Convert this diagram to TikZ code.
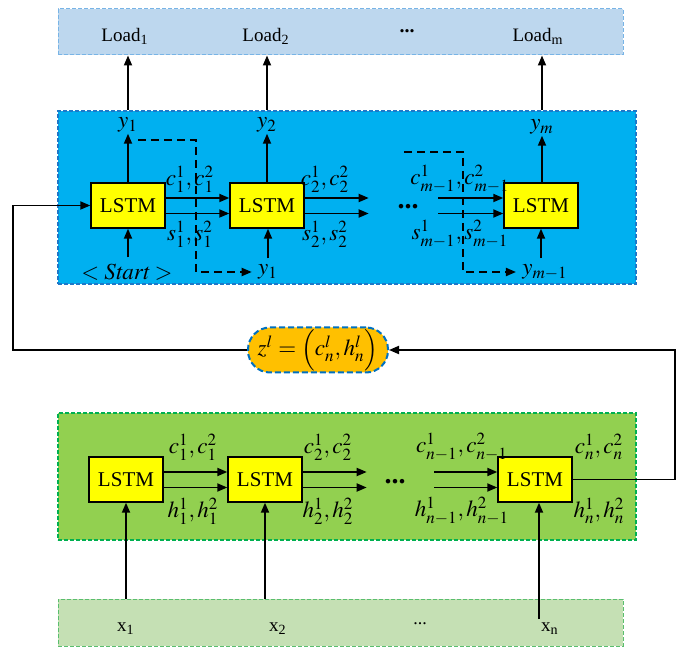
\documentclass[tikz,border=0pt]{standalone}
\usepackage{mathptmx}
\usepackage[no-math]{fontspec}
\setmainfont{Liberation Serif}
\usetikzlibrary{arrows.meta}

\definecolor{loadfill}{RGB}{189,215,238}
\definecolor{loadline}{RGB}{120,180,230}
\definecolor{decfill}{RGB}{0,176,240}
\definecolor{decline}{RGB}{30,120,200}
\definecolor{encfill}{RGB}{146,208,80}
\definecolor{encline}{RGB}{0,176,80}
\definecolor{infill}{RGB}{197,224,180}
\definecolor{inline}{RGB}{90,190,110}
\definecolor{zfill}{RGB}{255,192,0}
\definecolor{zline}{RGB}{0,112,192}
\definecolor{lstmfill}{RGB}{255,255,0}

\tikzset{
    bar/.style={dashed, dash pattern=on 2pt off 1pt, line width=0.5pt, inner sep=0pt},
    lstm/.style={draw=black, fill=lstmfill, line width=0.7pt, minimum width=37pt, minimum height=22.5pt, inner sep=0pt, font=\fontsize{10.5}{12}\selectfont},
    arr/.style={-{Triangle[length=5pt,width=4pt]}, line width=0.9pt},
    dsh/.style={dash pattern=on 4pt off 2.5pt, line width=0.7pt},
    lbl/.style={font=\fontsize{11.5}{13}\selectfont, inner sep=0.5pt},
    inlbl/.style={font=\fontsize{11.5}{13}\selectfont, inner sep=3pt},
    txt/.style={font=\fontsize{9.5}{11}\selectfont, inner sep=0pt}
}

\begin{document}
\begin{tikzpicture}[x=0.5pt,y=-0.5pt]
    \useasboundingbox (0,0) rectangle (676,647);

    % 背景框
    \node[bar, fill=loadfill, draw=loadline, minimum width=282.5pt, minimum height=23pt] (load) at (340.5,32) {};
    \node[bar, fill=decfill, draw=decline, line width=0.7pt, minimum width=289pt, minimum height=86.5pt] (dec) at (347,197.5) {};
    \node[bar, fill=encfill, draw=encline, line width=0.7pt, minimum width=289pt, minimum height=63.5pt] (enc) at (347,476.5) {};
    \node[bar, fill=infill, draw=inline, minimum width=282.5pt, minimum height=23.5pt] (xin) at (340.5,622.5) {};

    % 输出与输入文字
    \node[txt] (load1) at (125,36) {Load\textsubscript{1}};
    \node[txt] (load2) at (266,36) {Load\textsubscript{2}};
    \node[txt, font=\fontsize{10}{11}\selectfont\bfseries] (loaddots) at (407,31) {...};
    \node[txt] (loadm) at (538,36) {Load\textsubscript{m}};
    \node[txt] (x1) at (126,629) {x\textsubscript{1}};
    \node[txt] (x2) at (278,629) {x\textsubscript{2}};
    \node[txt, font=\fontsize{9}{11}\selectfont] (xdots) at (420,624) {...};
    \node[txt] (xn) at (550,629) {x\textsubscript{n}};

    % 解码器 LSTM
    \node[lstm] (lstmt1) at (128,205.5) {LSTM};
    \node[lstm] (lstmt2) at (267,205.5) {LSTM};
    \node[lstm] (lstmt3) at (541,205.5) {LSTM};
    \node[font=\fontsize{14}{14}\selectfont\bfseries, inner sep=0pt] (tdots) at (408,207) {...};

    % 编码器 LSTM
    \node[lstm] (lstmb1) at (126,479.5) {LSTM};
    \node[lstm] (lstmb2) at (265,479.5) {LSTM};
    \node[lstm] (lstmb3) at (535,479.5) {LSTM};
    \node[font=\fontsize{14}{14}\selectfont\bfseries, inner sep=0pt] (bdots) at (395,482) {...};

    % 中间向量
    \node[draw=zline, fill=zfill, dashed, dash pattern=on 3pt off 1.5pt, line width=1pt, rounded corners=11pt,
          minimum width=70pt, minimum height=22.5pt, inner sep=0pt, font=\fontsize{11.5}{13}\selectfont] (znode) at (318,350)
          {$z^l=\Bigl(c_n^l,h_n^l\Bigr)$};

    % 解码器标注
    \node[lbl] (yt1) at (128,125) {$y_1$};
    \node[lbl] (yt2) at (267,125) {$y_2$};
    \node[lbl] (ytm) at (542,127) {$y_m$};
    \node[lbl] (ct1) at (190,179) {$c_1^1,c_1^2$};
    \node[lbl] (st1) at (190,234) {$s_1^1,s_1^2$};
    \node[lbl] (ct2) at (325,179) {$c_2^1,c_2^2$};
    \node[lbl] (st2) at (325,234) {$s_2^1,s_2^2$};
    \node[lbl] (ctm) at (460,179) {$c_{m-1}^1,c_{m-1}^2$};
    \node[lbl] (stm) at (460,234) {$s_{m-1}^1,s_{m-1}^2$};
    \node[inlbl] (start) at (127,272) {$<\mathit{Start}>$};
    \node[inlbl] (yb1) at (268,272) {$y_1$};
    \node[inlbl] (ybm) at (545,272) {$y_{m-1}$};

    % 编码器标注
    \node[lbl] (cb1) at (193,447) {$c_1^1,c_1^2$};
    \node[lbl] (hb1) at (193,511) {$h_1^1,h_1^2$};
    \node[lbl] (cb2) at (328,447) {$c_2^1,c_2^2$};
    \node[lbl] (hb2) at (328,511) {$h_2^1,h_2^2$};
    \node[lbl] (cbm) at (462,447) {$c_{n-1}^1,c_{n-1}^2$};
    \node[lbl] (hbm) at (462,511) {$h_{n-1}^1,h_{n-1}^2$};
    \node[lbl] (cbn) at (599,447) {$c_n^1,c_n^2$};
    \node[lbl] (hbn) at (599,511) {$h_n^1,h_n^2$};

    % 输出到 Load
    \draw[arr] (dec.north -| yt1) -- (load.south -| yt1);
    \draw[arr] (dec.north -| yt2) -- (load.south -| yt2);
    \draw[arr] (dec.north -| ytm) -- (load.south -| ytm);

    % 解码器连线
    \draw[arr] (yt1 |- lstmt1.north) -- (yt1.south);
    \draw[arr] (yt2 |- lstmt2.north) -- (yt2.south);
    \draw[arr] (ytm |- lstmt3.north) -- (ytm.south);
    \draw[arr] ([yshift=3.75pt]lstmt1.east) -- ([yshift=3.75pt]lstmt2.west);
    \draw[arr] ([yshift=-4pt]lstmt1.east) -- ([yshift=-4pt]lstmt2.west);
    \draw[arr] ([yshift=3.75pt]lstmt2.east) -- ++(64,0);
    \draw[arr] ([yshift=-4pt]lstmt2.east) -- ++(64,0);
    \draw[arr] ([xshift=-32.5pt,yshift=3.75pt]lstmt3.west) -- ([yshift=3.75pt]lstmt3.west);
    \draw[arr] ([xshift=-32.5pt,yshift=-4pt]lstmt3.west) -- ([yshift=-4pt]lstmt3.west);
    \draw[arr] (lstmt1.south |- start.north) -- (lstmt1.south);
    \draw[arr] (yb1.north) -- (yb1 |- lstmt2.south);
    \draw[arr] ([xshift=-2pt]ybm.north) -- ([xshift=-2pt]ybm.north |- lstmt3.south);

    % 虚线反馈
    \coordinate (d1s) at (138,140);
    \coordinate (d1m) at (196,272);
    \coordinate (d2s) at (404,152);
    \coordinate (d2m) at (463,272);
    \draw[dsh, arr] (d1s) -| (d1m) -- (yb1.west);
    \draw[dsh, arr] (d2s) -| (d2m) -- (ybm.west);

    % 编码器连线
    \draw[arr] ([yshift=3.75pt]lstmb1.east) -- ([yshift=3.75pt]lstmb2.west);
    \draw[arr] ([yshift=-4pt]lstmb1.east) -- ([yshift=-4pt]lstmb2.west);
    \draw[arr] ([yshift=3.75pt]lstmb2.east) -- ++(64,0);
    \draw[arr] ([yshift=-4pt]lstmb2.east) -- ++(64,0);
    \draw[arr] ([xshift=-31.5pt,yshift=3.75pt]lstmb3.west) -- ([yshift=3.75pt]lstmb3.west);
    \draw[arr] ([xshift=-31.5pt,yshift=-4pt]lstmb3.west) -- ([yshift=-4pt]lstmb3.west);
    \draw[arr] (xin.north -| lstmb1) -- (lstmb1.south);
    \draw[arr] (xin.north -| lstmb2) -- (lstmb2.south);
    \coordinate (xnin) at (539,619);
    \draw[arr] (xnin) -- (xnin |- lstmb3.south);

    % 中间向量连线
    \coordinate (fbl) at (13,280);
    \coordinate (fbr) at (675,420);
    \draw[arr] (lstmb3.east) -| (fbr) |- (znode.east);
    \draw[arr] (znode.west) -| (fbl) |- (lstmt1.west);
\end{tikzpicture}
\end{document}
